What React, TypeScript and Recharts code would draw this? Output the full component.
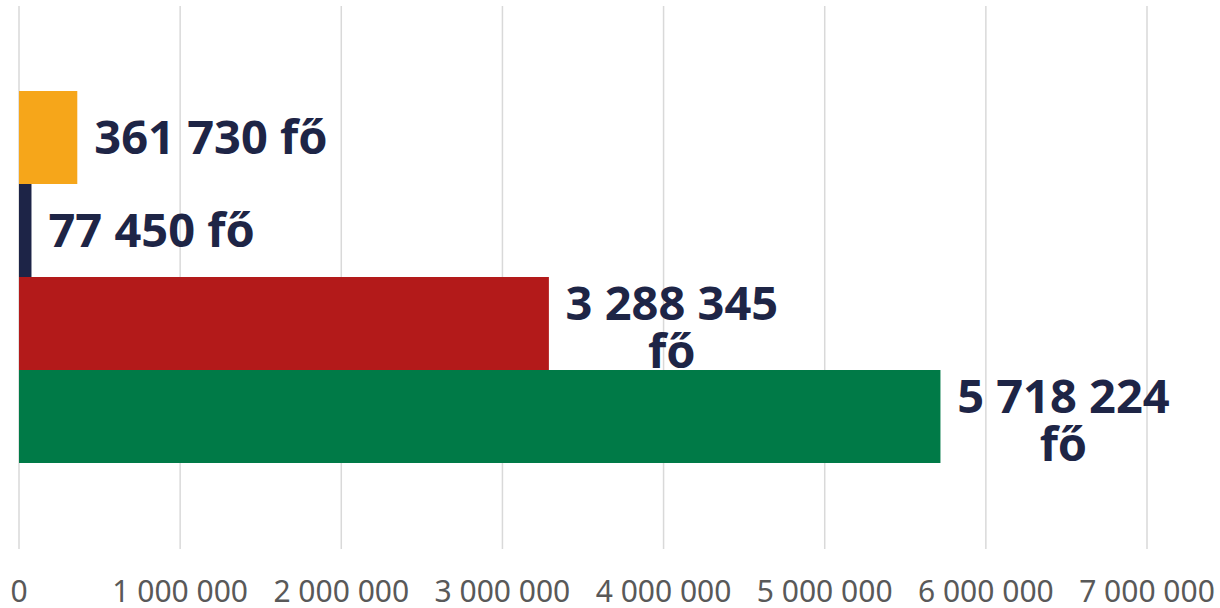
import React from "react";
import { BarChart, Bar, XAxis, YAxis, CartesianGrid } from "recharts";

// Egyetlen kategória, négy sorozat egymás alatt; adatcímkék a sávok végén.

const categories = ["Összesen"];
const seriesKeys = ["s1", "s2", "s3", "s4"];
const seriesValues = [361730, 77450, 3288345, 5718224];
const seriesColors = ["#F6A61A", "#1D2447", "#B31A1A", "#007A47"];
const xTicks = [0, 1000000, 2000000, 3000000, 4000000, 5000000, 6000000, 7000000];

const data = categories.map((name) => {
  const row: Record<string, string | number> = { name };
  seriesKeys.forEach((k, i) => {
    row[k] = seriesValues[i];
  });
  return row;
});

const fmt = (v: number) => String(Math.round(v)).replace(/\B(?=(\d{3})+(?!\d))/g, " ");

const LABEL_COLOR = "#1E2546";
const LABEL_FONT = "'Noto Sans', 'Liberation Sans', sans-serif";

function ValueLabel(props: any) {
  const { x, y, width, height, value } = props;
  const end = x + width + 17;
  const cy = y + height / 2;
  const num = fmt(value);
  const common = {
    fill: LABEL_COLOR,
    fontFamily: LABEL_FONT,
    fontWeight: 700,
    fontSize: 47,
  };
  if (value < 1000000) {
    return (
      <text x={end} y={cy} dy="0.36em" textAnchor="start" {...common}>
        {num + " fő"}
      </text>
    );
  }
  const cx = end + 106;
  return (
    <text x={cx} y={cy + 4} textAnchor="middle" {...common}>
      <tspan x={cx} dy="-0.16em">{num}</tspan>
      <tspan x={cx} dy="1.02em">fő</tspan>
    </text>
  );
}

export default function App() {
  return (
    <div style={{ position: "fixed", left: 0, top: 0, width: 1220, height: 608, background: "#fff" }}>
      <BarChart
        width={1220}
        height={608}
        data={data}
        layout="vertical"
        margin={{ top: 6, right: 73, bottom: 0, left: 19 }}
        barCategoryGap={85}
        barGap={0}
      >
        <CartesianGrid horizontal={false} stroke="#D9D9D9" strokeWidth={1.5} />
        <XAxis
          type="number"
          domain={[0, 7000000]}
          ticks={xTicks}
          interval={0}
          height={59}
          axisLine={false}
          tickLine={false}
          tickSize={0}
          tickMargin={32}
          tickFormatter={(v) => fmt(v)}
          tick={{ fill: "#595959", fontSize: 30, fontFamily: "'Noto Sans', sans-serif" }}
        />
        <YAxis type="category" dataKey="name" hide width={0} />
        {seriesKeys.map((k, i) => (
          <Bar
            key={k}
            dataKey={k}
            fill={seriesColors[i]}
            isAnimationActive={false}
            label={<ValueLabel />}
          />
        ))}
      </BarChart>
    </div>
  );
}
